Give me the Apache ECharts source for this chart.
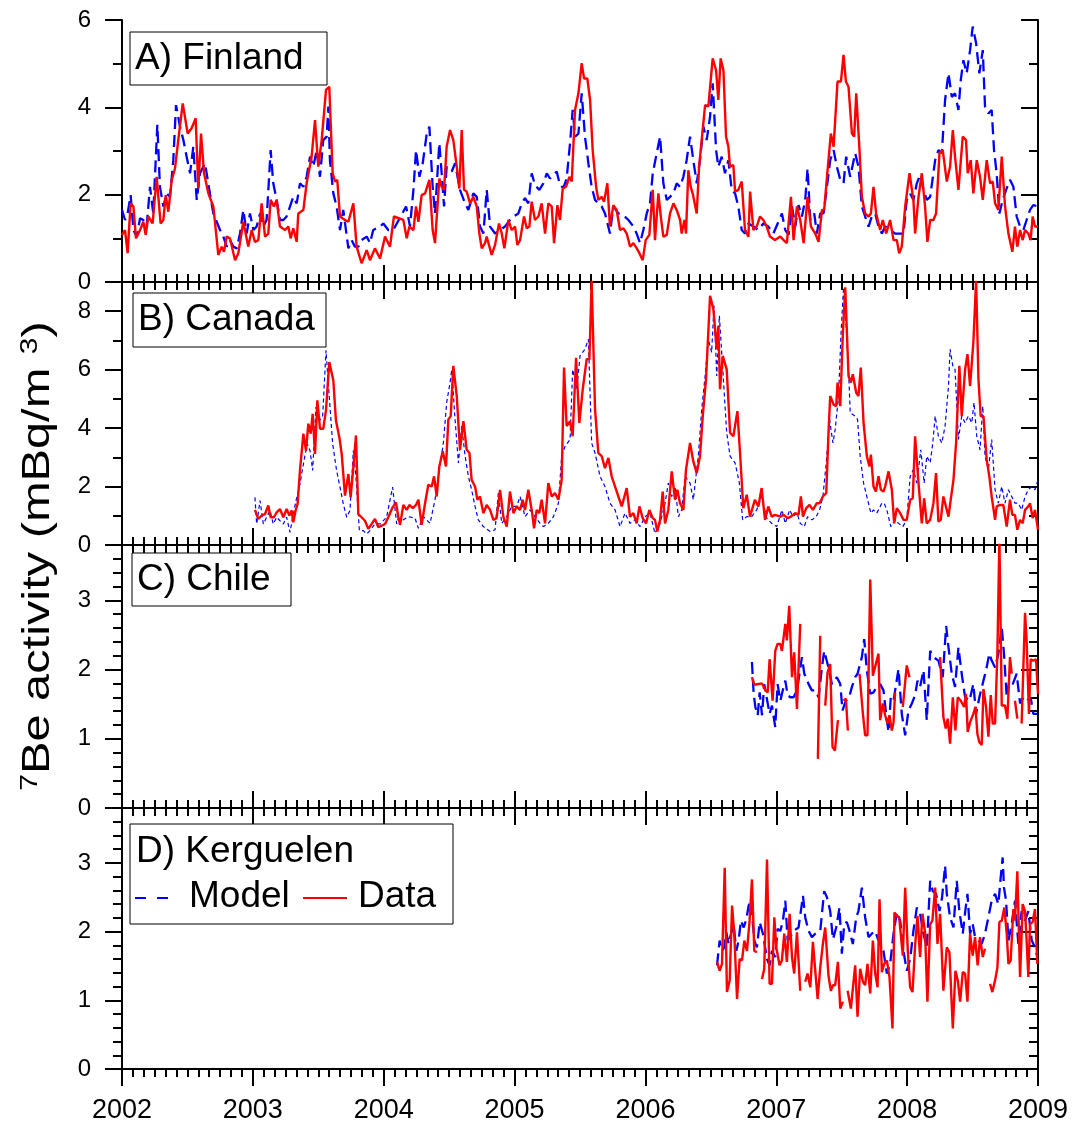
<!DOCTYPE html>
<html><head><meta charset="utf-8">
<script src="https://cdn.jsdelivr.net/npm/echarts@6/dist/echarts.min.js"></script>
<style>html,body{margin:0;padding:0;background:#fff}#c{width:1075px;height:1128px}</style>
</head><body><div id="c"></div>
<script>
// ---------- DATA ([decimal year, 7Be activity mBq/m3]) ----------
const yearTicks = [2002,2003,2004,2005,2006,2007,2008,2009];
const panelLabels = ['A) Finland','B) Canada','C) Chile','D) Kerguelen'];
const legendNames = ['Model','Data'];

const finlandModel = [[2002.000,1.65],[2002.023,1.42],[2002.043,1.57],[2002.066,1.99],[2002.087,1.19],[2002.112,1.04],[2002.138,1.46],[2002.163,1.42],[2002.188,1.27],[2002.214,2.18],[2002.239,1.57],[2002.270,3.60],[2002.290,2.18],[2002.316,1.73],[2002.341,2.03],[2002.367,1.95],[2002.392,2.79],[2002.413,4.05],[2002.443,3.56],[2002.469,3.25],[2002.494,2.87],[2002.520,2.49],[2002.545,3.10],[2002.571,1.88],[2002.596,2.49],[2002.634,2.72],[2002.672,2.03],[2002.698,1.57],[2002.749,1.19],[2002.774,1.04],[2002.800,0.81],[2002.825,0.96],[2002.851,0.81],[2002.876,0.77],[2002.902,1.11],[2002.927,1.65],[2002.953,1.11],[2002.978,1.57],[2003.004,1.19],[2003.029,1.27],[2003.055,1.57],[2003.080,1.27],[2003.105,1.42],[2003.136,3.02],[2003.156,2.26],[2003.182,1.88],[2003.207,1.42],[2003.233,1.42],[2003.258,1.50],[2003.284,1.73],[2003.309,1.95],[2003.335,1.80],[2003.360,2.26],[2003.386,2.18],[2003.411,2.41],[2003.437,2.87],[2003.462,2.64],[2003.488,3.02],[2003.513,2.41],[2003.538,3.25],[2003.564,3.33],[2003.577,4.02],[2003.589,2.79],[2003.615,2.03],[2003.640,1.73],[2003.666,1.19],[2003.691,1.65],[2003.730,0.77],[2003.755,0.96],[2003.780,0.81],[2003.806,0.81],[2003.831,0.96],[2003.870,1.04],[2003.895,0.89],[2003.920,1.19],[2003.972,1.27],[2003.997,1.34],[2004.035,1.19],[2004.073,1.19],[2004.171,1.73],[2004.201,1.27],[2004.227,2.11],[2004.247,3.02],[2004.273,2.41],[2004.298,2.72],[2004.329,3.40],[2004.349,3.56],[2004.374,2.18],[2004.392,1.57],[2004.425,3.18],[2004.443,2.49],[2004.461,1.73],[2004.481,2.64],[2004.520,2.53],[2004.545,2.72],[2004.583,2.11],[2004.622,1.80],[2004.647,1.65],[2004.685,2.03],[2004.711,1.95],[2004.736,1.27],[2004.762,1.11],[2004.787,2.11],[2004.813,1.27],[2004.851,1.11],[2004.889,1.19],[2004.927,1.27],[2004.965,1.42],[2004.991,1.50],[2005.029,1.57],[2005.055,1.80],[2005.080,1.92],[2005.105,1.80],[2005.131,2.49],[2005.156,2.22],[2005.189,2.11],[2005.220,2.26],[2005.246,2.49],[2005.271,2.37],[2005.297,2.45],[2005.322,2.53],[2005.347,2.22],[2005.373,2.15],[2005.398,2.37],[2005.424,3.18],[2005.444,3.94],[2005.462,3.33],[2005.488,3.40],[2005.513,4.32],[2005.538,3.33],[2005.564,2.72],[2005.589,2.18],[2005.615,1.88],[2005.640,1.80],[2005.666,1.73],[2005.691,1.57],[2005.729,1.11],[2005.755,1.73],[2005.793,1.57],[2005.831,1.53],[2005.870,1.42],[2005.908,1.27],[2005.933,1.11],[2005.959,0.89],[2005.984,1.19],[2006.010,1.57],[2006.035,1.80],[2006.056,2.49],[2006.081,2.87],[2006.112,3.33],[2006.137,2.26],[2006.163,1.88],[2006.188,1.95],[2006.214,2.03],[2006.239,2.26],[2006.264,2.18],[2006.290,2.41],[2006.315,2.79],[2006.341,3.33],[2006.366,2.79],[2006.392,2.26],[2006.417,2.79],[2006.443,3.56],[2006.468,3.25],[2006.494,3.79],[2006.514,4.55],[2006.540,3.02],[2006.557,2.64],[2006.583,2.87],[2006.608,2.49],[2006.634,2.79],[2006.659,2.11],[2006.685,2.03],[2006.710,1.73],[2006.736,1.19],[2006.761,1.11],[2006.787,1.34],[2006.825,1.27],[2006.863,1.19],[2006.901,1.34],[2006.939,1.27],[2006.978,1.11],[2007.043,1.57],[2007.069,1.19],[2007.094,1.08],[2007.120,1.73],[2007.145,1.27],[2007.170,1.76],[2007.196,1.50],[2007.221,1.88],[2007.239,2.60],[2007.260,1.42],[2007.290,1.57],[2007.310,1.11],[2007.336,1.57],[2007.361,1.57],[2007.387,2.18],[2007.412,2.79],[2007.438,3.02],[2007.463,2.64],[2007.489,2.34],[2007.514,2.26],[2007.534,2.87],[2007.565,2.41],[2007.603,2.95],[2007.628,2.64],[2007.654,1.73],[2007.679,1.50],[2007.705,1.27],[2007.730,1.50],[2007.756,1.57],[2007.781,1.27],[2007.807,1.11],[2007.832,1.27],[2007.870,1.19],[2007.908,1.11],[2007.947,1.11],[2007.972,1.11],[2007.997,1.88],[2008.023,2.03],[2008.048,1.88],[2008.074,2.26],[2008.099,2.45],[2008.125,2.11],[2008.150,1.88],[2008.176,1.95],[2008.214,2.79],[2008.239,3.02],[2008.265,2.95],[2008.290,4.17],[2008.316,4.78],[2008.341,4.24],[2008.366,4.32],[2008.392,3.94],[2008.410,4.63],[2008.430,5.08],[2008.455,4.78],[2008.481,5.31],[2008.501,5.85],[2008.527,5.47],[2008.552,4.78],[2008.578,5.31],[2008.595,4.02],[2008.621,3.86],[2008.646,3.94],[2008.664,3.02],[2008.684,2.49],[2008.705,1.57],[2008.730,1.88],[2008.756,2.11],[2008.786,2.34],[2008.812,2.18],[2008.837,1.50],[2008.863,1.27],[2008.888,1.19],[2008.913,1.42],[2008.939,1.65],[2008.964,1.76],[2009.000,1.73]];

const finlandData = [[2002.000,1.08],[2002.023,1.19],[2002.043,0.66],[2002.066,1.80],[2002.087,1.73],[2002.107,1.00],[2002.138,1.19],[2002.163,1.38],[2002.181,1.08],[2002.201,1.50],[2002.234,1.34],[2002.265,2.41],[2002.295,1.34],[2002.316,1.42],[2002.334,1.99],[2002.354,1.61],[2002.380,2.34],[2002.405,2.60],[2002.430,3.25],[2002.464,4.09],[2002.502,3.40],[2002.532,3.52],[2002.563,3.75],[2002.583,2.14],[2002.604,3.40],[2002.627,2.49],[2002.660,2.03],[2002.698,1.73],[2002.736,0.62],[2002.762,0.81],[2002.779,0.69],[2002.800,1.04],[2002.825,1.00],[2002.864,0.50],[2002.889,0.66],[2002.927,1.38],[2002.965,0.81],[2002.991,1.19],[2003.016,0.92],[2003.042,0.96],[2003.067,1.80],[2003.093,1.04],[2003.118,1.11],[2003.136,1.88],[2003.161,1.73],[2003.182,1.88],[2003.207,1.27],[2003.246,1.19],[2003.271,1.27],[2003.289,1.00],[2003.309,1.23],[2003.335,0.92],[2003.347,1.57],[2003.386,1.65],[2003.411,2.26],[2003.449,2.87],[2003.475,3.71],[2003.500,2.64],[2003.526,3.25],[2003.559,4.40],[2003.584,4.47],[2003.610,2.49],[2003.628,2.30],[2003.645,2.34],[2003.666,1.50],[2003.704,1.42],[2003.730,1.38],[2003.768,1.80],[2003.793,0.81],[2003.831,0.43],[2003.870,0.73],[2003.895,0.50],[2003.933,0.77],[2003.972,0.54],[2004.010,1.04],[2004.048,0.81],[2004.078,1.50],[2004.150,1.42],[2004.176,1.00],[2004.196,1.27],[2004.227,1.19],[2004.247,1.73],[2004.265,1.38],[2004.290,1.99],[2004.316,2.03],[2004.349,2.34],[2004.374,1.19],[2004.392,0.89],[2004.425,2.37],[2004.443,2.18],[2004.461,2.11],[2004.481,3.10],[2004.507,3.48],[2004.532,3.25],[2004.558,2.64],[2004.578,2.14],[2004.596,3.48],[2004.614,2.11],[2004.634,2.07],[2004.660,1.80],[2004.685,1.95],[2004.711,1.73],[2004.731,1.11],[2004.749,0.77],[2004.774,0.89],[2004.787,1.04],[2004.825,0.62],[2004.851,0.85],[2004.863,0.89],[2004.881,1.34],[2004.902,1.11],[2004.922,0.77],[2004.953,1.42],[2004.978,1.19],[2005.004,1.27],[2005.021,0.85],[2005.042,0.96],[2005.072,1.50],[2005.093,1.23],[2005.113,1.27],[2005.131,1.84],[2005.156,1.42],[2005.182,1.50],[2005.207,1.80],[2005.233,1.11],[2005.258,1.80],[2005.284,1.73],[2005.302,0.89],[2005.327,1.76],[2005.347,1.42],[2005.368,2.14],[2005.393,2.18],[2005.419,2.41],[2005.437,2.30],[2005.462,3.94],[2005.488,4.32],[2005.513,5.01],[2005.531,4.66],[2005.556,4.66],[2005.577,4.17],[2005.597,3.02],[2005.623,2.18],[2005.640,1.88],[2005.666,1.95],[2005.684,1.84],[2005.709,2.26],[2005.729,1.27],[2005.755,1.76],[2005.780,1.65],[2005.806,1.19],[2005.832,1.23],[2005.857,1.11],[2005.883,0.81],[2005.908,0.89],[2005.934,0.77],[2005.954,0.66],[2005.979,0.50],[2006.002,0.96],[2006.030,1.08],[2006.056,2.11],[2006.073,0.96],[2006.099,2.03],[2006.119,1.46],[2006.137,1.04],[2006.163,1.08],[2006.188,1.57],[2006.214,1.80],[2006.239,1.65],[2006.265,1.42],[2006.277,1.11],[2006.298,1.42],[2006.310,1.11],[2006.328,2.56],[2006.346,2.18],[2006.361,2.03],[2006.392,1.57],[2006.410,2.64],[2006.430,3.25],[2006.456,4.05],[2006.481,4.02],[2006.514,5.12],[2006.540,4.85],[2006.557,4.17],[2006.575,5.12],[2006.596,4.85],[2006.616,3.33],[2006.634,3.10],[2006.646,2.64],[2006.672,2.68],[2006.685,2.07],[2006.710,2.11],[2006.736,2.30],[2006.761,1.19],[2006.787,1.04],[2006.800,2.07],[2006.825,1.19],[2006.850,1.27],[2006.876,1.50],[2006.901,1.42],[2006.927,1.27],[2006.952,1.04],[2006.990,0.96],[2007.031,1.04],[2007.056,0.96],[2007.081,0.89],[2007.112,1.95],[2007.132,0.96],[2007.158,1.73],[2007.183,1.42],[2007.209,0.89],[2007.239,1.95],[2007.265,1.27],[2007.298,1.11],[2007.323,0.92],[2007.349,1.65],[2007.366,1.65],[2007.392,2.56],[2007.417,3.40],[2007.438,3.10],[2007.468,4.59],[2007.494,4.59],[2007.514,5.20],[2007.532,4.59],[2007.552,4.47],[2007.578,3.40],[2007.595,3.33],[2007.611,4.32],[2007.636,3.02],[2007.654,1.95],[2007.679,1.57],[2007.705,1.50],[2007.723,1.57],[2007.743,2.18],[2007.763,1.57],[2007.794,1.19],[2007.814,1.42],[2007.840,1.11],[2007.870,1.42],[2007.896,0.96],[2007.921,0.96],[2007.939,0.66],[2007.959,0.81],[2007.985,1.73],[2008.018,2.49],[2008.048,1.88],[2008.061,1.11],[2008.087,1.95],[2008.112,2.49],[2008.137,1.73],[2008.155,0.92],[2008.176,1.42],[2008.201,1.42],[2008.221,1.57],[2008.247,2.95],[2008.272,3.02],[2008.303,2.30],[2008.328,2.64],[2008.349,3.48],[2008.366,2.87],[2008.392,2.11],[2008.425,3.33],[2008.450,3.25],[2008.463,2.49],[2008.486,2.79],[2008.506,2.03],[2008.532,2.79],[2008.557,2.41],[2008.578,1.88],[2008.608,2.79],[2008.634,2.26],[2008.654,2.30],[2008.672,1.80],[2008.697,1.65],[2008.723,2.87],[2008.748,1.73],[2008.774,1.11],[2008.804,0.69],[2008.824,1.27],[2008.842,0.81],[2008.863,1.19],[2008.883,0.96],[2008.901,1.19],[2008.926,1.11],[2008.944,0.96],[2008.959,1.50],[2008.977,1.27],[2009.000,1.27]];

const canadaModel = [[2003.016,1.63],[2003.029,0.72],[2003.055,1.52],[2003.080,0.72],[2003.105,0.95],[2003.131,1.18],[2003.156,0.72],[2003.182,0.95],[2003.207,0.83],[2003.233,0.72],[2003.258,0.95],[2003.284,0.43],[2003.304,0.95],[2003.330,1.52],[2003.360,2.09],[2003.391,2.89],[2003.416,3.46],[2003.437,3.23],[2003.457,2.55],[2003.482,4.72],[2003.508,4.26],[2003.533,4.38],[2003.559,6.66],[2003.584,5.06],[2003.610,3.46],[2003.640,2.55],[2003.666,1.98],[2003.691,1.41],[2003.717,0.95],[2003.742,1.18],[2003.768,3.23],[2003.788,2.32],[2003.814,0.49],[2003.844,0.49],[2003.870,0.38],[2003.895,0.49],[2003.933,0.72],[2003.972,0.72],[2004.022,0.95],[2004.068,1.98],[2004.099,0.72],[2004.112,0.92],[2004.150,0.86],[2004.188,0.97],[2004.239,0.92],[2004.265,0.57],[2004.303,0.97],[2004.354,0.74],[2004.392,1.55],[2004.418,2.35],[2004.456,3.49],[2004.481,4.87],[2004.507,5.56],[2004.520,6.01],[2004.545,4.30],[2004.571,2.81],[2004.596,4.07],[2004.622,3.04],[2004.647,2.35],[2004.672,1.89],[2004.698,1.32],[2004.723,0.86],[2004.762,0.63],[2004.813,0.46],[2004.851,0.52],[2004.876,1.78],[2004.902,0.74],[2004.940,0.97],[2004.978,1.32],[2005.016,1.32],[2005.042,1.66],[2005.080,0.97],[2005.118,1.20],[2005.156,0.97],[2005.195,0.74],[2005.220,0.63],[2005.258,0.74],[2005.297,0.97],[2005.335,1.43],[2005.360,3.04],[2005.386,3.38],[2005.424,3.61],[2005.444,6.01],[2005.475,5.33],[2005.500,6.47],[2005.538,6.70],[2005.564,7.04],[2005.589,3.49],[2005.615,3.15],[2005.653,2.35],[2005.691,2.00],[2005.729,1.43],[2005.768,1.20],[2005.806,0.63],[2005.844,1.09],[2005.882,0.74],[2005.920,0.86],[2005.959,0.63],[2005.997,0.97],[2006.035,1.09],[2006.073,0.40],[2006.112,0.74],[2006.150,1.43],[2006.175,2.12],[2006.201,1.66],[2006.226,2.00],[2006.252,0.97],[2006.277,1.20],[2006.303,2.35],[2006.341,2.12],[2006.366,1.55],[2006.404,3.04],[2006.430,4.64],[2006.456,5.78],[2006.481,7.04],[2006.506,6.59],[2006.524,8.19],[2006.545,5.78],[2006.565,7.85],[2006.591,6.01],[2006.621,3.84],[2006.647,3.04],[2006.685,2.81],[2006.718,2.12],[2006.743,0.86],[2006.774,0.97],[2006.812,0.97],[2006.850,1.20],[2006.888,1.66],[2006.927,0.92],[2006.965,0.74],[2007.003,0.63],[2007.043,1.20],[2007.069,0.74],[2007.102,1.20],[2007.127,0.97],[2007.158,1.09],[2007.183,0.74],[2007.214,0.63],[2007.239,0.97],[2007.272,0.86],[2007.305,0.97],[2007.331,1.20],[2007.356,1.66],[2007.382,2.81],[2007.407,4.30],[2007.433,3.49],[2007.450,3.95],[2007.476,5.10],[2007.494,7.16],[2007.514,8.82],[2007.534,7.50],[2007.552,6.01],[2007.565,4.52],[2007.603,4.41],[2007.621,4.30],[2007.641,3.04],[2007.667,2.12],[2007.692,1.66],[2007.723,1.09],[2007.743,1.20],[2007.768,1.09],[2007.807,1.43],[2007.824,1.43],[2007.845,1.20],[2007.875,0.63],[2007.908,0.86],[2007.934,0.74],[2007.967,0.63],[2007.997,0.86],[2008.023,2.35],[2008.048,2.58],[2008.074,2.12],[2008.104,3.26],[2008.130,2.12],[2008.150,3.04],[2008.176,2.81],[2008.196,3.49],[2008.214,4.41],[2008.239,3.72],[2008.265,3.49],[2008.290,4.07],[2008.316,5.44],[2008.328,6.70],[2008.349,6.13],[2008.366,6.01],[2008.392,3.61],[2008.417,4.41],[2008.443,4.18],[2008.468,4.41],[2008.494,4.18],[2008.511,4.87],[2008.532,3.72],[2008.557,3.26],[2008.578,4.75],[2008.595,3.04],[2008.621,2.58],[2008.646,3.61],[2008.672,1.89],[2008.697,1.43],[2008.723,2.00],[2008.748,1.43],[2008.774,1.89],[2008.799,1.66],[2008.824,1.43],[2008.850,1.43],[2008.875,1.20],[2008.901,1.66],[2008.926,1.89],[2008.952,2.00],[2008.977,1.89],[2009.000,2.23]];

const canadaData = [[2003.016,1.20],[2003.042,0.89],[2003.067,1.01],[2003.093,1.06],[2003.118,1.35],[2003.136,0.95],[2003.161,0.95],[2003.182,1.12],[2003.207,1.23],[2003.233,0.95],[2003.258,1.23],[2003.279,1.01],[2003.296,1.18],[2003.309,0.78],[2003.327,1.18],[2003.342,1.41],[2003.360,2.55],[2003.386,3.81],[2003.406,3.23],[2003.424,4.15],[2003.442,3.81],[2003.457,4.49],[2003.475,3.12],[2003.493,4.95],[2003.513,3.98],[2003.538,3.98],[2003.559,4.61],[2003.584,6.26],[2003.615,5.63],[2003.635,4.26],[2003.661,3.69],[2003.679,3.12],[2003.704,1.69],[2003.730,2.43],[2003.747,1.63],[2003.768,2.66],[2003.788,3.75],[2003.806,1.06],[2003.831,0.95],[2003.857,0.83],[2003.882,0.55],[2003.908,0.72],[2003.933,0.89],[2003.959,0.61],[2003.984,0.66],[2004.010,0.72],[2004.035,0.95],[2004.068,1.29],[2004.094,1.46],[2004.112,0.95],[2004.125,0.69],[2004.150,1.37],[2004.176,1.20],[2004.196,1.37],[2004.222,1.26],[2004.247,1.37],[2004.265,1.55],[2004.290,0.69],[2004.316,1.43],[2004.341,2.06],[2004.367,2.00],[2004.385,2.35],[2004.405,1.66],[2004.425,2.69],[2004.451,3.21],[2004.476,2.69],[2004.494,4.30],[2004.512,4.41],[2004.532,6.13],[2004.558,5.10],[2004.583,3.26],[2004.609,4.24],[2004.634,3.26],[2004.655,3.15],[2004.672,2.23],[2004.698,2.00],[2004.716,1.55],[2004.736,1.66],[2004.762,1.09],[2004.787,1.37],[2004.813,1.20],[2004.838,0.86],[2004.863,0.92],[2004.889,1.89],[2004.914,0.97],[2004.940,0.63],[2004.965,1.83],[2004.991,1.09],[2005.016,1.32],[2005.042,1.20],[2005.062,1.55],[2005.080,1.20],[2005.105,1.89],[2005.131,1.20],[2005.149,0.57],[2005.169,1.20],[2005.189,1.09],[2005.207,1.55],[2005.233,0.74],[2005.258,2.12],[2005.284,1.66],[2005.309,1.78],[2005.335,1.55],[2005.360,2.23],[2005.378,6.07],[2005.398,4.07],[2005.424,4.24],[2005.444,3.72],[2005.470,6.41],[2005.495,4.18],[2005.521,5.33],[2005.551,6.36],[2005.572,6.36],[2005.589,9.05],[2005.615,4.64],[2005.640,3.15],[2005.666,3.04],[2005.691,2.63],[2005.717,2.98],[2005.742,2.35],[2005.768,2.00],[2005.793,1.66],[2005.819,1.32],[2005.857,1.95],[2005.882,0.97],[2005.908,1.09],[2005.933,0.74],[2005.954,1.32],[2005.979,0.92],[2006.005,0.74],[2006.030,1.20],[2006.056,0.92],[2006.073,0.86],[2006.091,0.46],[2006.112,0.86],[2006.132,1.83],[2006.150,0.74],[2006.175,1.20],[2006.201,2.52],[2006.226,1.55],[2006.244,1.89],[2006.264,1.43],[2006.290,1.20],[2006.310,2.58],[2006.341,3.49],[2006.366,2.86],[2006.392,2.46],[2006.417,3.04],[2006.438,4.41],[2006.463,5.67],[2006.494,8.53],[2006.519,8.08],[2006.545,6.70],[2006.557,7.50],[2006.570,5.33],[2006.591,6.47],[2006.621,6.01],[2006.647,3.84],[2006.672,3.72],[2006.703,4.58],[2006.723,3.15],[2006.748,1.26],[2006.774,1.72],[2006.799,0.97],[2006.837,1.55],[2006.863,1.32],[2006.888,1.95],[2006.914,0.86],[2006.939,1.32],[2006.965,0.97],[2006.990,1.03],[2007.031,0.97],[2007.056,1.03],[2007.087,0.92],[2007.112,0.97],[2007.145,1.09],[2007.170,1.03],[2007.188,1.66],[2007.204,0.97],[2007.229,1.26],[2007.254,1.37],[2007.280,1.20],[2007.310,1.43],[2007.331,1.43],[2007.356,1.66],[2007.382,1.78],[2007.399,3.84],[2007.412,5.10],[2007.438,4.81],[2007.458,4.75],[2007.468,5.56],[2007.489,4.75],[2007.509,7.27],[2007.527,8.82],[2007.552,5.78],[2007.570,5.56],[2007.585,5.84],[2007.611,5.21],[2007.628,5.10],[2007.646,6.07],[2007.667,4.18],[2007.692,3.04],[2007.712,2.69],[2007.723,3.09],[2007.743,2.00],[2007.761,1.83],[2007.781,2.35],[2007.799,1.89],[2007.819,1.83],[2007.832,2.00],[2007.858,2.52],[2007.883,1.89],[2007.901,0.74],[2007.921,1.26],[2007.947,1.09],[2007.972,0.86],[2007.997,0.86],[2008.023,1.55],[2008.043,1.60],[2008.061,3.72],[2008.087,2.12],[2008.112,0.74],[2008.130,1.60],[2008.150,0.74],[2008.176,0.86],[2008.201,1.43],[2008.221,2.46],[2008.239,0.80],[2008.257,0.86],[2008.277,1.66],[2008.290,1.66],[2008.316,0.97],[2008.333,1.55],[2008.354,2.23],[2008.374,3.49],[2008.399,6.13],[2008.417,4.41],[2008.443,6.01],[2008.461,6.53],[2008.481,5.44],[2008.506,6.93],[2008.527,9.05],[2008.545,5.67],[2008.562,4.41],[2008.583,4.41],[2008.608,2.92],[2008.628,2.35],[2008.646,1.66],[2008.672,0.86],[2008.684,1.32],[2008.710,1.37],[2008.735,1.37],[2008.761,0.63],[2008.786,1.55],[2008.804,1.03],[2008.824,1.03],[2008.842,0.52],[2008.863,0.86],[2008.883,0.74],[2008.901,1.20],[2008.926,1.32],[2008.939,1.43],[2008.959,0.92],[2008.977,1.20],[2009.000,0.52]];

const chileModel = [[2006.814,2.11],[2006.827,1.65],[2006.840,1.46],[2006.858,1.34],[2006.873,1.67],[2006.891,1.34],[2006.908,1.79],[2006.949,1.36],[2006.967,1.48],[2006.992,1.17],[2007.010,1.79],[2007.031,1.55],[2007.056,1.75],[2007.069,1.84],[2007.087,1.63],[2007.107,1.60],[2007.132,1.60],[2007.158,1.70],[2007.196,2.18],[2007.214,1.94],[2007.247,1.79],[2007.272,1.70],[2007.298,1.70],[2007.323,1.60],[2007.349,2.03],[2007.366,2.27],[2007.399,2.03],[2007.425,1.79],[2007.463,1.89],[2007.489,1.79],[2007.506,1.41],[2007.532,1.55],[2007.557,1.60],[2007.578,1.75],[2007.603,1.89],[2007.621,1.94],[2007.654,2.18],[2007.672,2.44],[2007.692,1.99],[2007.718,1.65],[2007.743,1.67],[2007.768,1.75],[2007.794,1.79],[2007.819,1.70],[2007.845,1.27],[2007.858,1.10],[2007.875,1.60],[2007.896,1.55],[2007.934,2.01],[2007.959,1.36],[2007.985,1.05],[2008.010,1.41],[2008.036,1.51],[2008.061,1.63],[2008.079,1.84],[2008.099,1.75],[2008.125,1.99],[2008.150,1.27],[2008.176,2.27],[2008.201,2.18],[2008.239,2.13],[2008.272,1.89],[2008.298,2.63],[2008.316,2.32],[2008.341,1.94],[2008.366,1.75],[2008.392,2.32],[2008.417,1.94],[2008.443,1.60],[2008.476,1.55],[2008.506,1.79],[2008.527,1.36],[2008.552,1.60],[2008.583,1.84],[2008.603,1.99],[2008.628,2.23],[2008.646,2.13],[2008.672,2.03],[2008.697,2.23],[2008.723,2.61],[2008.740,2.23],[2008.761,1.60],[2008.781,1.84],[2008.807,1.79],[2008.837,1.94],[2008.863,1.51],[2008.888,1.60],[2008.913,1.55],[2008.944,1.60],[2008.964,1.36],[2008.995,1.36]];

const chileData = [[2006.814,1.89],[2006.832,1.78],[2006.891,1.80],[2006.916,1.70],[2006.934,1.67],[2006.949,2.15],[2006.972,1.55],[2006.992,2.27],[2007.010,2.37],[2007.031,2.37],[2007.043,2.27],[2007.069,2.66],[2007.081,2.42],[2007.099,2.92],[2007.120,1.89],[2007.137,2.25],[2007.158,1.43],[2007.183,2.66],[2007.250,null],[2007.318,0.71],[2007.336,2.49],[2007.355,null],[2007.374,1.48],[2007.392,1.96],[2007.412,2.08],[2007.430,0.88],[2007.448,0.83],[2007.471,1.27],[2007.490,null],[2007.514,1.55],[2007.532,1.58],[2007.547,1.12],[2007.590,null],[2007.636,1.94],[2007.662,1.36],[2007.679,1.05],[2007.697,1.05],[2007.718,3.30],[2007.738,1.91],[2007.781,2.23],[2007.794,1.27],[2007.814,1.51],[2007.832,1.34],[2007.850,1.22],[2007.865,1.34],[2007.883,1.12],[2007.896,1.24],[2007.908,1.67],[2007.940,null],[2007.967,1.46],[2007.997,2.06],[2008.018,1.89],[2008.130,null],[2008.252,2.18],[2008.277,1.31],[2008.295,1.15],[2008.310,1.29],[2008.328,0.93],[2008.349,1.60],[2008.369,1.12],[2008.387,1.60],[2008.410,1.55],[2008.435,1.46],[2008.450,1.65],[2008.463,1.10],[2008.481,1.24],[2008.506,1.36],[2008.522,1.46],[2008.537,1.07],[2008.552,0.95],[2008.570,0.91],[2008.583,1.72],[2008.603,1.46],[2008.621,1.03],[2008.639,1.63],[2008.654,1.22],[2008.672,1.22],[2008.690,2.27],[2008.705,3.90],[2008.723,1.48],[2008.748,1.48],[2008.766,1.29],[2008.786,2.18],[2008.799,1.94],[2008.812,null],[2008.824,1.55],[2008.842,1.29],[2008.860,null],[2008.875,1.22],[2008.901,2.82],[2008.913,2.42],[2008.931,1.36],[2008.944,2.15],[2008.964,2.13],[2008.985,2.15],[2009.000,1.65]];

const kerguelenModel = [[2006.547,1.51],[2006.567,1.87],[2006.585,1.72],[2006.603,1.77],[2006.618,1.99],[2006.636,1.82],[2006.654,1.97],[2006.674,2.09],[2006.695,1.72],[2006.712,1.87],[2006.730,2.16],[2006.751,2.06],[2006.771,2.18],[2006.789,2.38],[2006.807,2.45],[2006.832,1.87],[2006.852,1.77],[2006.873,2.14],[2006.898,1.97],[2006.929,1.60],[2006.949,1.51],[2006.967,1.72],[2006.992,1.63],[2007.010,2.04],[2007.031,2.01],[2007.051,2.16],[2007.069,2.45],[2007.087,1.87],[2007.107,1.92],[2007.132,2.01],[2007.170,2.06],[2007.204,2.52],[2007.221,2.21],[2007.247,2.01],[2007.272,1.92],[2007.298,1.97],[2007.336,2.01],[2007.366,2.59],[2007.387,2.50],[2007.412,2.30],[2007.433,1.89],[2007.458,2.06],[2007.483,2.35],[2007.501,1.68],[2007.519,2.11],[2007.539,2.14],[2007.560,2.01],[2007.585,1.82],[2007.611,2.21],[2007.628,2.30],[2007.654,2.64],[2007.679,2.21],[2007.705,1.92],[2007.730,1.97],[2007.756,2.01],[2007.781,1.87],[2007.819,1.72],[2007.845,1.39],[2007.870,1.53],[2007.896,1.97],[2007.921,2.28],[2007.947,2.16],[2007.972,1.72],[2007.997,1.43],[2008.023,1.60],[2008.048,2.01],[2008.074,2.35],[2008.099,2.26],[2008.125,1.97],[2008.150,1.77],[2008.176,2.74],[2008.196,2.59],[2008.221,2.55],[2008.247,2.30],[2008.267,2.50],[2008.290,2.96],[2008.303,2.55],[2008.328,2.21],[2008.354,2.06],[2008.379,2.74],[2008.399,2.30],[2008.425,1.97],[2008.443,2.28],[2008.461,2.55],[2008.481,1.97],[2008.501,2.11],[2008.519,1.92],[2008.545,1.87],[2008.570,1.82],[2008.595,1.97],[2008.621,2.21],[2008.646,2.45],[2008.672,2.55],[2008.697,2.40],[2008.715,2.79],[2008.730,3.08],[2008.740,2.64],[2008.756,2.45],[2008.774,1.87],[2008.799,2.11],[2008.824,2.45],[2008.850,1.82],[2008.875,2.30],[2008.901,2.16],[2008.926,2.30],[2008.952,1.87],[2008.977,1.77],[2008.995,1.63]];

const kerguelenData = [[2006.547,1.56],[2006.567,1.43],[2006.585,1.53],[2006.606,2.93],[2006.623,1.12],[2006.644,1.29],[2006.662,2.38],[2006.679,1.97],[2006.700,1.02],[2006.720,1.60],[2006.738,1.58],[2006.756,1.87],[2006.776,1.72],[2006.796,2.16],[2006.814,2.76],[2006.832,1.72],[2006.852,1.70],[2006.870,null],[2006.891,1.31],[2006.908,1.46],[2006.929,3.05],[2006.949,1.24],[2006.967,1.24],[2006.985,2.21],[2007.000,1.77],[2007.025,1.51],[2007.043,1.58],[2007.061,1.97],[2007.081,1.56],[2007.102,2.26],[2007.120,1.63],[2007.137,1.39],[2007.158,1.99],[2007.183,1.14],[2007.200,null],[2007.221,1.27],[2007.239,1.39],[2007.260,1.19],[2007.280,1.85],[2007.298,1.43],[2007.316,1.02],[2007.336,1.48],[2007.356,1.82],[2007.374,2.06],[2007.399,1.36],[2007.417,1.14],[2007.433,1.22],[2007.450,1.22],[2007.471,1.56],[2007.489,0.88],[2007.509,0.98],[2007.527,null],[2007.545,1.14],[2007.570,0.88],[2007.585,1.17],[2007.603,1.51],[2007.621,0.76],[2007.641,1.46],[2007.662,1.27],[2007.679,1.22],[2007.697,1.53],[2007.718,1.10],[2007.738,1.87],[2007.756,1.39],[2007.774,1.19],[2007.789,2.47],[2007.807,1.41],[2007.824,1.53],[2007.845,1.58],[2007.865,1.34],[2007.888,0.59],[2007.903,2.28],[2007.921,2.23],[2007.939,2.21],[2007.952,2.23],[2007.967,1.65],[2007.985,2.64],[2008.005,1.72],[2008.023,1.19],[2008.041,1.12],[2008.061,1.80],[2008.079,2.23],[2008.099,1.63],[2008.117,2.26],[2008.137,1.99],[2008.155,0.98],[2008.176,2.11],[2008.193,2.16],[2008.214,2.64],[2008.232,1.82],[2008.252,2.26],[2008.277,1.14],[2008.303,1.77],[2008.323,1.70],[2008.349,0.59],[2008.369,1.43],[2008.387,1.29],[2008.405,0.98],[2008.425,1.41],[2008.443,1.39],[2008.461,0.98],[2008.481,1.97],[2008.501,1.65],[2008.519,1.92],[2008.539,1.51],[2008.557,1.92],[2008.578,1.63],[2008.595,1.75],[2008.615,null],[2008.634,1.24],[2008.651,1.12],[2008.672,1.29],[2008.690,1.48],[2008.705,2.14],[2008.723,2.16],[2008.743,2.35],[2008.761,1.97],[2008.774,1.53],[2008.791,1.58],[2008.812,2.33],[2008.824,2.16],[2008.842,2.88],[2008.863,1.34],[2008.883,2.40],[2008.901,2.30],[2008.913,1.87],[2008.926,1.34],[2008.939,2.11],[2008.959,2.14],[2008.977,2.33],[2008.995,1.53]];

const panelMax = [6, 9, 3.8, 3.8];
const panelMajor = [2, 2, 1, 1];
const panelMinorSplit = [2, 2, 5, 5];

// ---------- CHART ----------
const FONT = 'Liberation Sans, Arial, sans-serif';
const BLUE = '#0000ff', RED = '#ff0000';
const grids = [
  {left:122, top:20, width:916, height:262},
  {left:122, top:282, width:916, height:263},
  {left:122, top:545, width:916, height:263},
  {left:122, top:808, width:916, height:261}
];
const axLine = {show:true, lineStyle:{color:'#000', width:2}};
const xAxes = [], yAxes = [];
grids.forEach((g, i) => {
  const last = i === 3;
  xAxes.push({type:'value', gridIndex:i, position:'top', min:yearTicks[0], max:yearTicks[yearTicks.length-1], interval:1,
    axisLine:axLine, axisTick:{show:true, inside:true, length:17, lineStyle:{color:'#000', width:2}},
    minorTick:{show:true, splitNumber:12, length:8, lineStyle:{color:'#000', width:2}},
    axisLabel:{show:false}, splitLine:{show:false}, minorSplitLine:{show:false}});
  xAxes.push({type:'value', gridIndex:i, position:'bottom', min:yearTicks[0], max:yearTicks[yearTicks.length-1], interval:1,
    axisLine:axLine, axisTick:{show:true, inside:!last, length:17, lineStyle:{color:'#000', width:2}},
    minorTick:{show:true, splitNumber:12, length:8, lineStyle:{color:'#000', width:2}},
    axisLabel:{show:last, margin:28, color:'#000', fontSize:27, fontFamily:FONT, formatter: v => String(Math.round(v))},
    splitLine:{show:false}, minorSplitLine:{show:false}});
  yAxes.push({type:'value', gridIndex:i, position:'left', min:0, max:panelMax[i], interval:panelMajor[i],
    axisLine:axLine, axisTick:{show:true, inside:false, length:17, lineStyle:{color:'#000', width:2}},
    minorTick:{show:true, splitNumber:panelMinorSplit[i], length:9, lineStyle:{color:'#000', width:2}},
    axisLabel:{show:true, margin:31, color:'#000', fontSize:24, fontFamily:FONT, showMaxLabel: i===0},
    splitLine:{show:false}, minorSplitLine:{show:false}});
  yAxes.push({type:'value', gridIndex:i, position:'right', min:0, max:panelMax[i], interval:panelMajor[i],
    axisLine:axLine, axisTick:{show:true, inside:true, length:17, lineStyle:{color:'#000', width:2}},
    minorTick:{show:true, splitNumber:panelMinorSplit[i], length:9, lineStyle:{color:'#000', width:2}},
    axisLabel:{show:false}, splitLine:{show:false}, minorSplitLine:{show:false}});
});

function lineSeries(name, data, gi, color, dash, width){
  return {name, type:'line', data, xAxisIndex: gi*2+1, yAxisIndex: gi*2, showSymbol:false, symbol:'none',
    connectNulls:false, clip:true, animation:false,
    lineStyle:{color, width, type: dash || 'solid'}, z: color===RED ? 4 : 3};
}
const series = [
  lineSeries(legendNames[0], finlandModel, 0, BLUE, [12,6], 2.3),
  lineSeries(legendNames[1], finlandData, 0, RED, null, 2.4),
  lineSeries(legendNames[0], canadaModel, 1, BLUE, [4,3], 1.2),
  lineSeries(legendNames[1], canadaData, 1, RED, null, 2.4),
  lineSeries(legendNames[0], chileModel, 2, BLUE, [12,6], 2.3),
  lineSeries(legendNames[1], chileData, 2, RED, null, 2.4),
  lineSeries(legendNames[0], kerguelenModel, 3, BLUE, [12,6], 2.3),
  lineSeries(legendNames[1], kerguelenData, 3, RED, null, 2.4)
];

function box(x, y, w, h){ return {type:'rect', shape:{x, y, width:w, height:h}, style:{fill:'#fff', stroke:'#000', lineWidth:1}, z:100}; }
function label(txt, x, y, size){ return {type:'text', x, y, style:{text:txt, fill:'#000', font: size+'px '+FONT, textAlign:'left', textVerticalAlign:'middle'}, z:101}; }

const graphic = [
  box(130, 32, 197, 53), label(panelLabels[0], 135, 59, 37),
  box(133, 293, 193, 54), label(panelLabels[1], 138, 320, 37),
  box(132, 553, 159, 53), label(panelLabels[2], 137, 580, 37),
  box(130, 824, 323, 100), label(panelLabels[3], 136, 852, 37),
  {type:'line', shape:{x1:135, y1:898, x2:169, y2:898}, style:{stroke:BLUE, lineWidth:2, lineDash:[11,11]}, z:101},
  label(legendNames[0], 189, 897, 37),
  {type:'line', shape:{x1:303, y1:898, x2:347, y2:898}, style:{stroke:RED, lineWidth:2}, z:101},
  label(legendNames[1], 358, 897, 37),
  {type:'text', x:38, y:556, rotation:Math.PI/2, scaleX:1.25, z:101,
    style:{text:'{s|7}{n|Be activity (mBq/m }{s|3}{n|)}', textAlign:'center', textVerticalAlign:'middle', fill:'#000',
      rich:{n:{fontSize:39, fontFamily:FONT, color:'#000'}, s:{fontSize:24, fontFamily:FONT, color:'#000', verticalAlign:'top'}}}}
];

const chart = echarts.init(document.getElementById('c'), null, {renderer:'canvas'});
chart.setOption({animation:false, backgroundColor:'#fff', grid:grids, xAxis:xAxes, yAxis:yAxes, series, graphic});
</script></body></html>
